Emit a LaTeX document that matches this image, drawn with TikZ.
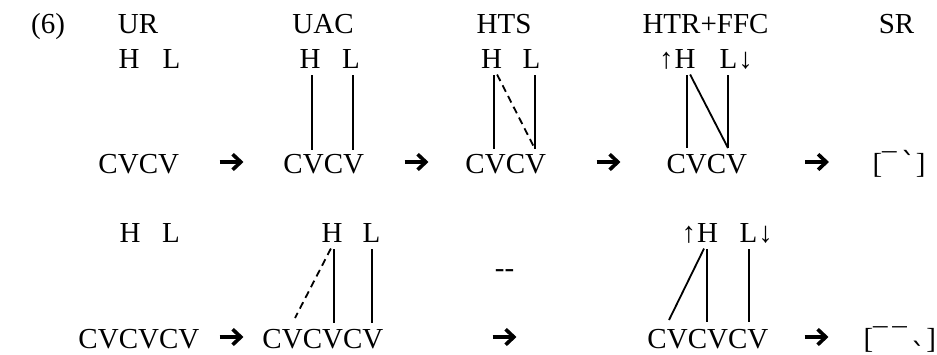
\documentclass[tikz,border=0pt]{standalone}
\usepackage{fontspec}
\setmainfont{Liberation Serif}
\newfontfamily\tonefont{DejaVu Sans}
\usetikzlibrary{arrows.meta}

\begin{document}
\begin{tikzpicture}[x=0.4138pt,y=-0.4138pt,
	every node/.style={font=\fontsize{12}{14}\selectfont, inner sep=0pt, anchor=base},
	assoc/.style={line width=0.75pt, shorten <=2.8pt},
	spread/.style={assoc, dash pattern=on 3pt off 2pt},
	arrbox/.style={minimum width=9.5pt, minimum height=0pt, anchor=center},
	stepto/.style={line width=1.5pt, -{Straight Barb[length=3.4pt, width=6.4pt, line width=1.5pt]}}]
	
	\useasboundingbox (0,0) rectangle (937,354);
	
	\node (ex) at (48,33) {(6)};
	\node (ur) at (138,33) {UR};
	\node (uac) at (323,33) {UAC};
	\node (hts) at (504,33) {HTS};
	\node (htr) at (705.5,33) {HTR+FFC};
	\node (sr) at (896.5,33) {SR};
	
	
	\node (h1) at (129,68) {H}; \node (l1) at (171.5,68) {L};
	\node[anchor=base west] (cv1) at (98,173) {CVCV};
	
	\node[arrbox] (a1) at (231.5,162) {};
	\draw[stepto] (a1.west) -- (a1.east);
	
	
	\node (h2) at (310,68) {H}; \node (l2) at (351,68) {L};
	\node[anchor=base west] (cv2) at (283,173) {CVCV};
	\coordinate (v2a) at (312,150); \coordinate (v2b) at (353,150);
	\draw[assoc] (v2a |- h2.south) -- (v2a);
	\draw[assoc] (v2b |- l2.south) -- (v2b);
	
	\node[arrbox] (a2) at (416.5,162) {};
	\draw[stepto] (a2.west) -- (a2.east);
	
	
	\node (h3) at (491.5,68) {H}; \node (l3) at (531.5,68) {L};
	\node[anchor=base west] (cv3) at (465,173) {CVCV};
	\coordinate (v3a) at (494,149); \coordinate (v3b) at (535,149);
	\draw[assoc] (v3a |- h3.south) -- (v3a);
	\draw[assoc] (v3b |- l3.south) -- (v3b);
	\draw[spread] (v3a |- h3.south) -- (v3b);
	
	\node[arrbox] (a3) at (608.5,162) {};
	\draw[stepto] (a3.west) -- (a3.east);
	
	
	\node (h4) at (685,68) {H}; \node (l4) at (728.5,68) {L};
	\node[anchor=base east] (up4) at (h4.base west) {↑};
	\node[anchor=base west] (dn4) at (l4.base east) {↓};
	\node[anchor=base west] (cv4) at (666,173) {CVCV};
	\coordinate (v4a) at (687,148); \coordinate (v4b) at (728,148);
	\draw[assoc] (v4a |- h4.south) -- (v4a);
	\draw[assoc] (v4a |- h4.south) -- (v4b);
	\draw[assoc] (v4b |- l4.south) -- (v4b);
	
	\node[arrbox] (a4) at (817,162) {};
	\draw[stepto] (a4.west) -- (a4.east);
	
	\node[anchor=base west] (sr1) at (872,173) {[¯\,{\tonefont ˋ}]};
	
	
	\node (h5) at (130,242) {H}; \node (l5) at (171,242) {L};
	\node[anchor=base west] (cv5) at (78,348) {CVCVCV};
	
	\node[arrbox] (b1) at (231.5,337) {};
	\draw[stepto] (b1.west) -- (b1.east);
	
	
	\node (h6) at (332,242) {H}; \node (l6) at (371.5,242) {L};
	\node[anchor=base west] (cv6) at (262,348) {CVCVCV};
	\coordinate (v6a) at (295,318); \coordinate (v6b) at (334,323); \coordinate (v6c) at (372,323);
	\draw[spread] (v6b |- h6.south) -- (v6a);
	\draw[assoc] (v6b |- h6.south) -- (v6b);
	\draw[assoc] (v6c |- l6.south) -- (v6c);
	
	\node (gap) at (504.5,277) {{-}{-}};
	\node[arrbox] (b2) at (504.5,337) {};
	\draw[stepto] (b2.west) -- (b2.east);
	
	
	\node (h7) at (707.5,242) {H}; \node (l7) at (748.5,242) {L};
	\node[anchor=base east] (up7) at (h7.base west) {↑};
	\node[anchor=base west] (dn7) at (l7.base east) {↓};
	\node[anchor=base west] (cv7) at (647,348) {CVCVCV};
	\coordinate (v7a) at (669,320); \coordinate (v7b) at (707,322); \coordinate (v7c) at (749,322);
	\draw[assoc] (v7b |- h7.south) -- (v7a);
	\draw[assoc] (v7b |- h7.south) -- (v7b);
	\draw[assoc] (v7c |- l7.south) -- (v7c);
	
	\node[arrbox] (b3) at (816.5,337) {};
	\draw[stepto] (b3.west) -- (b3.east);
	
	\node[anchor=base west] (sr2) at (863,348) {[¯\,¯\,\raisebox{3.6pt}{\tonefont ˎ}]};
	
\end{tikzpicture}
\end{document}
